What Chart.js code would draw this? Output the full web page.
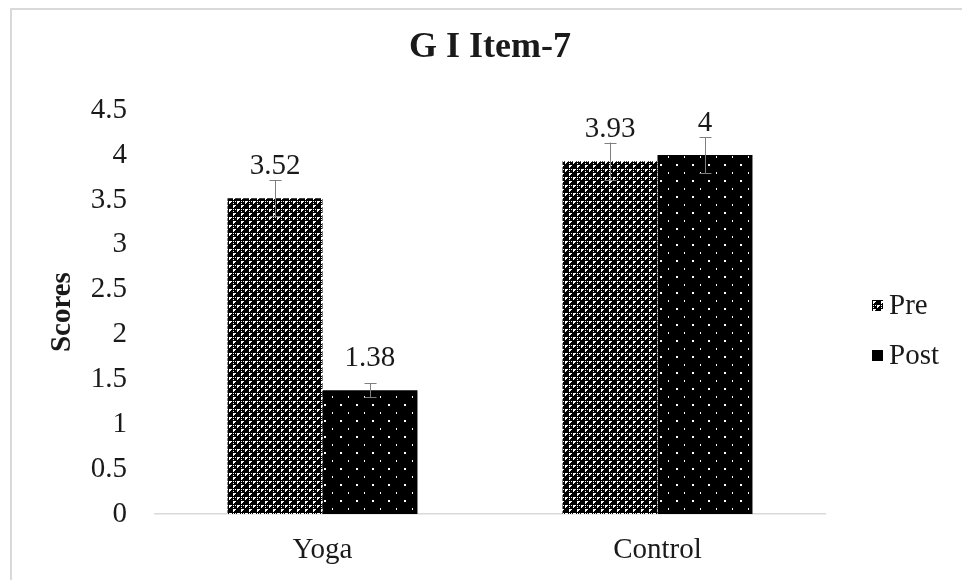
<!DOCTYPE html>
<html>
<head>
<meta charset="utf-8">
<script src="https://cdn.jsdelivr.net/npm/chart.js@4"></script>
<style>
  html, body { margin: 0; padding: 0; background: #fff; overflow: hidden; }
  #wrap { position: relative; width: 962px; height: 580px; }
</style>
</head>
<body>
<div id="wrap"><canvas id="chart"></canvas></div>
<script>
const categories   = ['Yoga', 'Control'];
const seriesLabels = ['Pre', 'Post'];
const preValues    = [3.52, 3.93];
const postValues   = [1.38, 4];
const preErrors    = [0.2, 0.21];
const postErrors   = [0.08, 0.2];
const yTicks       = { min: 0, max: 4.5, step: 0.5 };

const SERIF = "'Liberation Serif', 'Times New Roman', serif";

// dense dark grid with small white holes and dark marks, like the Excel dotted fill
function prePattern() {
  const c = document.createElement('canvas');
  c.width = 8; c.height = 8;
  const g = c.getContext('2d');
  g.fillStyle = '#000'; g.fillRect(0, 0, 8, 8);
  g.fillStyle = '#fff';
  for (let x = 0; x < 8; x += 4) for (let y = 0; y < 8; y += 4) {
    g.fillRect(x + 1, y + 1, 2, 2);
    g.fillRect(x + 3, y + 1, 1, 1);
    g.fillRect(x + 1, y + 3, 1, 1);
  }
  g.fillStyle = '#000';
  g.fillRect(1, 2, 3, 1); g.fillRect(2, 1, 1, 3);   // plus
  g.fillRect(5, 5, 3, 3);                           // dot
  return g.createPattern(c, 'repeat');
}

// black with sparse white dots
function postPattern() {
  const c = document.createElement('canvas');
  c.width = 16; c.height = 16;
  const g = c.getContext('2d');
  g.fillStyle = '#000'; g.fillRect(0, 0, 16, 16);
  g.fillStyle = '#fff';
  g.fillRect(4, 4, 2, 2);
  g.fillRect(12, 12, 1, 2);
  return g.createPattern(c, 'repeat');
}

const extras = {
  id: 'extras',
  beforeDraw(chart) {
    const ctx = chart.ctx;
    ctx.save();
    ctx.strokeStyle = '#d9d9d9';
    ctx.lineWidth = 2;
    ctx.strokeRect(11, 9, 2000, 2000);
    ctx.restore();
  },
  afterDatasetsDraw(chart) {
    const ctx = chart.ctx, y = chart.scales.y;
    ctx.save();
    chart.data.datasets.forEach((ds, i) => {
      chart.getDatasetMeta(i).data.forEach((bar, j) => {
        const v = ds.data[j], e = ds.errors[j];
        const x = Math.round(bar.x) + 0.5;
        const top = y.getPixelForValue(v + e), bot = y.getPixelForValue(v - e);
        ctx.strokeStyle = '#7f7f7f';
        ctx.lineWidth = 1;
        ctx.beginPath();
        ctx.moveTo(x, bot); ctx.lineTo(x, top);
        ctx.moveTo(x - 6, Math.round(top) + 0.5); ctx.lineTo(x + 6, Math.round(top) + 0.5);
        ctx.moveTo(x - 6, Math.round(bot) + 0.5); ctx.lineTo(x + 6, Math.round(bot) + 0.5);
        ctx.stroke();

        ctx.fillStyle = '#1a1a1a';
        ctx.font = '29px ' + SERIF;
        ctx.textAlign = 'center';
        ctx.textBaseline = 'middle';
        ctx.fillText(String(v), bar.x, bar.y - 32);
      });
    });

    // legend
    const rows = [306, 356];
    chart.data.datasets.forEach((ds, i) => {
      ctx.fillStyle = ds.backgroundColor;
      ctx.fillRect(872, rows[i] - 6, 11, 11);
      ctx.fillStyle = '#1a1a1a';
      ctx.font = '29px ' + SERIF;
      ctx.textAlign = 'left';
      ctx.textBaseline = 'middle';
      ctx.fillText(ds.label, 889, rows[i]);
    });
    ctx.restore();
  }
};

new Chart(document.getElementById('chart'), {
  type: 'bar',
  data: {
    labels: categories,
    datasets: [
      { label: seriesLabels[0], data: preValues,  errors: preErrors,  backgroundColor: prePattern(),  borderWidth: 0 },
      { label: seriesLabels[1], data: postValues, errors: postErrors, backgroundColor: postPattern(), borderWidth: 0 },
    ],
  },
  options: {
    responsive: true, maintainAspectRatio: false, animation: false,
    categoryPercentage: 0.567, barPercentage: 1,
    layout: { padding: { left: 0, right: 137, top: 0, bottom: 0 } },
    plugins: {
      legend: { display: false },
      tooltip: { enabled: false },
      title: {
        display: true, text: 'G I Item-7', fullSize: false, color: '#1a1a1a',
        font: { family: SERIF, size: 36, weight: 'bold' },
        padding: { top: 26, bottom: 41 },
      },
    },
    scales: {
      x: {
        grid: { display: false, drawTicks: false },
        border: { display: true, color: '#d9d9d9', width: 1.5 },
        ticks: { color: '#1a1a1a', padding: 19, font: { family: SERIF, size: 29 } },
        afterFit: s => { s.height = 66; },
      },
      y: {
        min: yTicks.min, max: yTicks.max,
        grid: { display: false, drawTicks: false },
        border: { display: false },
        ticks: {
          stepSize: yTicks.step, color: '#1a1a1a', padding: 28,
          font: { family: SERIF, size: 29 },
          callback: v => String(v),
        },
        title: {
          display: true, text: 'Scores', color: '#1a1a1a',
          font: { family: SERIF, size: 29, weight: 'bold' },
          padding: { top: 45, bottom: 0 },
        },
        afterFit: s => { s.width = 155; },
      },
    },
  },
  plugins: [extras],
});
</script>
</body>
</html>
